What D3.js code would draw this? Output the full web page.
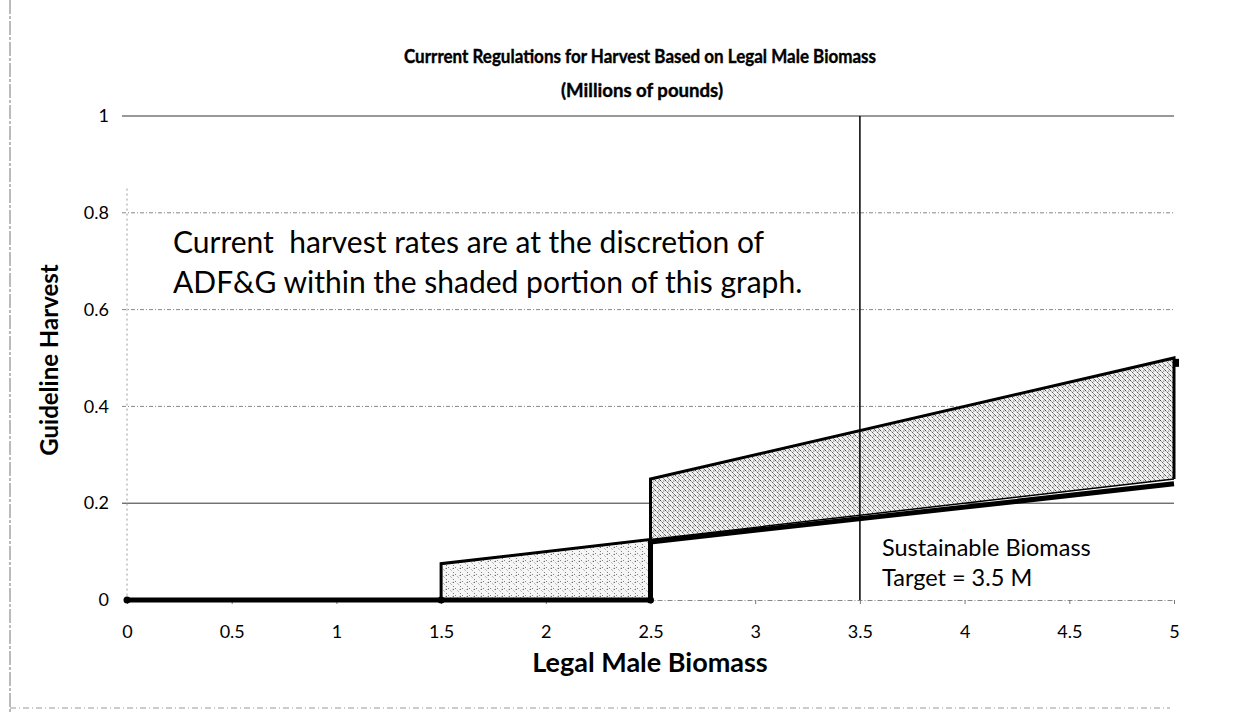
<!DOCTYPE html>
<html><head><meta charset="utf-8">
<script src="https://cdn.jsdelivr.net/npm/d3@7"></script>
<style>body{margin:0;background:#fff}svg{display:block}</style>
</head><body>
<script>
// ---- data ----
const xTicks = [0, 0.5, 1, 1.5, 2, 2.5, 3, 3.5, 4, 4.5, 5];
const yTicks = [0, 0.2, 0.4, 0.6, 0.8, 1];
// shaded band 1 (1.5 - 2.5 M)
const band1X = [1.5, 2.5];
const band1Low = [0, 0];
const band1High = [0.075, 0.125];
// shaded band 2 (2.5 - 5 M)
const band2X = [2.5, 5];
const band2Low = [0.125, 0.25];
const band2High = [0.25, 0.5];
// bold minimum guideline
const minX = [0, 1.5, 2.5, 2.5, 5];
const minY = [0, 0, 0, 0.12, 0.24];
// thin 5% line
const midX = [1.5, 2.5, 5];
const midY = [0.075, 0.125, 0.25];
// upper guideline outline
const upX = [1.5, 1.5, 2.5, 2.5, 5, 5];
const upY = [0, 0.075, 0.125, 0.25, 0.5, 0.25];
const targetX = 3.5;

const W = 1257, H = 713;
const svg = d3.select("body").append("svg").attr("width", W).attr("height", H);
const x = d3.scaleLinear().domain([0, 5]).range([127, 1174]);
const y = d3.scaleLinear().domain([0, 1]).range([600, 116]);

// patterns
const defs = svg.append("defs");
function hatch(id, gap, dash, op, bg) {
  const p = defs.append("pattern").attr("id", id).attr("patternUnits", "userSpaceOnUse")
    .attr("width", gap).attr("height", gap);
  p.append("rect").attr("width", gap).attr("height", gap).attr("fill", bg);
  p.append("line").attr("x1", 0).attr("y1", 0).attr("x2", gap).attr("y2", gap)
    .attr("stroke", "#222").attr("stroke-width", 1).attr("stroke-dasharray", dash).attr("opacity", op);
  p.append("circle").attr("cx", gap*0.75).attr("cy", gap*0.2).attr("r", 0.6).attr("fill", "#444");
}
hatch("h2", 5, "2,1", 0.8, "#f0f0f0");
hatch("h1", 7, "1.5,2", 0.55, "#f6f6f6");

// frame lines from scan
svg.append("line").attr("x1", 10).attr("x2", 10).attr("y1", 0).attr("y2", H)
  .attr("stroke", "#777").attr("stroke-width", 1).attr("stroke-dasharray", "14,2,3,2");
svg.append("line").attr("x1", 10).attr("x2", 1170).attr("y1", 708).attr("y2", 708)
  .attr("stroke", "#999").attr("stroke-width", 1).attr("stroke-dasharray", "6,3,1,3");

// gridlines
const g = svg.append("g");
yTicks.filter(d => d > 0).forEach(d => {
  const solid = (d === 1 || d === 0.2);
  g.append("line").attr("x1", 122).attr("x2", 1174).attr("y1", y(d)).attr("y2", y(d))
    .attr("stroke", solid ? "#333" : "#888").attr("stroke-width", 1)
    .attr("stroke-dasharray", solid ? null : "4,2,1,2");
});
// faint y axis
g.append("line").attr("x1", 127).attr("x2", 127).attr("y1", y(0.85)).attr("y2", y(0))
  .attr("stroke", "#999").attr("stroke-dasharray", "2,3");

// x axis (faint) with ticks
const xAxis = svg.append("g").attr("transform", `translate(0,${y(0)})`)
  .call(d3.axisBottom(x).tickValues(xTicks).tickFormat(d => d).tickSizeInner(4).tickSizeOuter(0).tickPadding(21));
xAxis.select(".domain").attr("stroke", "#888").attr("stroke-dasharray", "5,2,1,2");
xAxis.selectAll(".tick line").attr("stroke", "#777");

// shaded areas
const area = d3.area().x(d => x(d[0])).y0(d => y(d[1])).y1(d => y(d[2]));
svg.append("path").datum(band1X.map((v, i) => [v, band1Low[i], band1High[i]]))
  .attr("d", area).attr("fill", "url(#h1)");
svg.append("path").datum(band2X.map((v, i) => [v, band2Low[i], band2High[i]]))
  .attr("d", area).attr("fill", "url(#h2)");

const line = d3.line().x(d => x(d[0])).y(d => y(d[1]));
// upper outline
svg.append("path").datum(upX.map((v, i) => [v, upY[i]])).attr("d", line)
  .attr("fill", "none").attr("stroke", "#000").attr("stroke-width", 3);
// thin mid line
svg.append("path").datum(midX.map((v, i) => [v, midY[i]])).attr("d", line)
  .attr("fill", "none").attr("stroke", "#000").attr("stroke-width", 1.5);
// target line
svg.append("line").attr("x1", x(targetX)).attr("x2", x(targetX)).attr("y1", y(1)).attr("y2", y(0))
  .attr("stroke", "#000").attr("stroke-width", 1.5);
// bold minimum line
svg.append("path").datum(minX.map((v, i) => [v, minY[i]])).attr("d", line)
  .attr("fill", "none").attr("stroke", "#000").attr("stroke-width", 5);
// markers
svg.selectAll("circle.m").data([[0, 0], [1.5, 0], [2.5, 0]]).enter().append("circle")
  .attr("cx", d => x(d[0])).attr("cy", d => y(d[1])).attr("r", 3.5).attr("fill", "#000");
svg.append("rect").attr("x", x(5) + 1).attr("y", y(0.49) - 4).attr("width", 4).attr("height", 8).attr("fill", "#000");

// axis labels
const font = "Lato, 'Open Sans', sans-serif";
xAxis.selectAll("text").attr("font-family", font).attr("font-size", 18).attr("fill", "#000");
const yAxis = svg.append("g").attr("transform", `translate(111,0)`)
  .call(d3.axisLeft(y).tickValues(yTicks).tickFormat(d => d).tickSize(0).tickPadding(2));
yAxis.select(".domain").remove();
yAxis.selectAll("text").attr("font-family", font).attr("font-size", 18).attr("fill", "#000");

// titles
svg.append("text").attr("x", 640).attr("y", 63).attr("text-anchor", "middle")
  .attr("font-family", font).attr("font-weight", "bold").attr("font-size", 19)
  .attr("stroke", "#000").attr("stroke-width", 0.4)
  .attr("textLength", 472).attr("lengthAdjust", "spacingAndGlyphs")
  .text("Currrent Regulations for Harvest Based on Legal Male Biomass");
svg.append("text").attr("x", 642).attr("y", 97).attr("text-anchor", "middle")
  .attr("font-family", font).attr("font-weight", "bold").attr("font-size", 19)
  .attr("stroke", "#000").attr("stroke-width", 0.4)
  .attr("textLength", 162).attr("lengthAdjust", "spacingAndGlyphs")
  .text("(Millions of pounds)");
svg.append("text").attr("x", 650).attr("y", 672).attr("text-anchor", "middle")
  .attr("font-family", font).attr("font-weight", "bold").attr("font-size", 27)
  .text("Legal Male Biomass");
svg.append("text").attr("transform", "translate(58,360) rotate(-90)").attr("text-anchor", "middle")
  .attr("font-family", font).attr("font-weight", "bold").attr("font-size", 24)
  .text("Guideline Harvest");

// annotations
svg.append("text").attr("x", 173).attr("y", 253).attr("font-family", font).attr("font-size", 30)
  .style("white-space", "pre")
  .text("Current  harvest rates are at the discretion of");
svg.append("text").attr("x", 173).attr("y", 293).attr("font-family", font).attr("font-size", 30)
  .text("ADF&G within the shaded portion of this graph.");
svg.append("text").attr("x", 882).attr("y", 556).attr("font-family", font).attr("font-size", 23.5)
  .text("Sustainable Biomass");
svg.append("text").attr("x", 882).attr("y", 586).attr("font-family", font).attr("font-size", 23.5)
  .text("Target = 3.5 M");
</script>
</body></html>
